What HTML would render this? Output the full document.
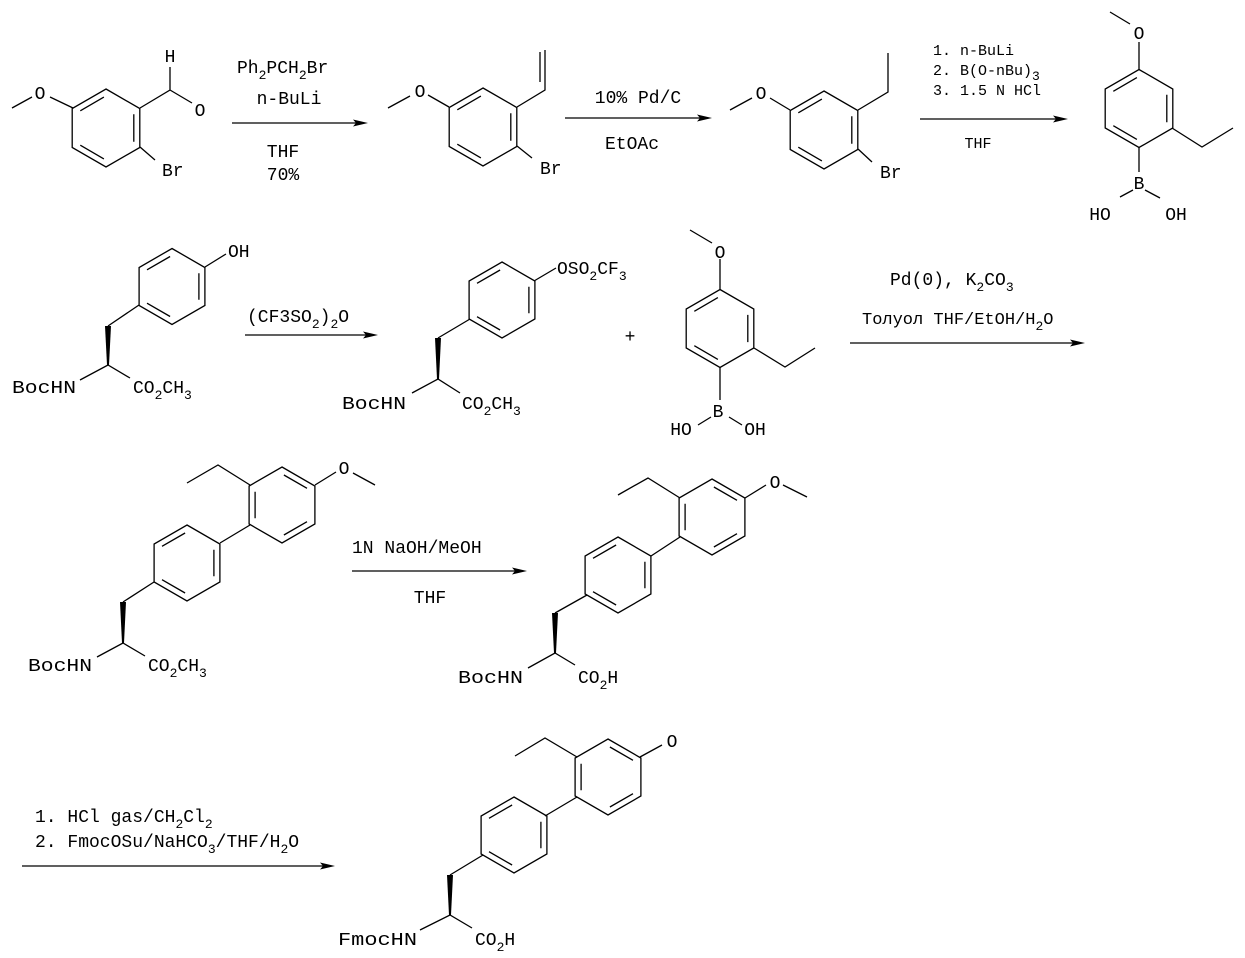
<!DOCTYPE html>
<html><head><meta charset="utf-8"><style>
html,body{margin:0;padding:0;background:#fff;}
svg{display:block;}
text{font-family:"Liberation Mono","DejaVu Sans Mono",monospace;font-size:18px;fill:#000;}
.s{font-size:13px;}
.sm text{font-size:15px;}
</style></head><body>
<svg id="g" width="1245" height="958" viewBox="0 0 1245 958" xmlns="http://www.w3.org/2000/svg">
<g stroke="#000" stroke-width="1.3" fill="none" id="L">
<!-- mol 1 -->
<path d="M12 108L32 97M50 97L73 108M140 108L170 90L170 67M170 90L192 103M140 147L155 160"/>
<!-- styrene -->
<path d="M388 108L410 96M428 95L449 107M517 107L545 90L545 50M540 82L540 52M517 146L532 158"/>
<!-- bromide -->
<path d="M730 110L752 98M770 98L790 110M858 110L888 92L888 53M858 149L872 162"/>
<!-- boronic -->
<path d="M1110 12L1130 24M1139 42L1139 70M1172 128L1202 147L1233 128M1139 147L1139 172M1120 197L1133 190M1145 190L1160 198"/>
<!-- tyrosine -->
<path d="M205 267L226 254M139 305L108 326M80 380L108 365L130 378"/>
<!-- triflate -->
<path d="M534 281L556 268M470 319L438 338M412 393L438 379L460 393"/>
<!-- boronic 2 -->
<path d="M690 230L712 243M720 259L720 290M754 348L785 367L815 348M720 367L720 400M698 425L711 417M729 417L742 425"/>
<!-- A -->
<path d="M315 485L336 472M353 473L375 485M250 485L218 465L187 483M220 543L250 525M154 582L123 602M97 657L123 643L145 656"/>
<!-- B -->
<path d="M745 498L766 485M783 485L807 497M680 498L648 478L618 495M651 556L680 537M587 595L555 613M528 668L555 653L575 665"/>
<!-- C -->
<path d="M640 757L662 745M577 757L545 738L515 756M545 816L577 797M483 855L450 875M420 930L450 915L472 928"/>
<!-- arrows -->
<path d="M232 123H356M565 118H700M920 119H1056M245 335H366M850 343H1073M352 571H515M22 866H323"/>
</g>
<g fill="#000">
<polygon points="368,123 353,119.5 356,123 353,126.5"/>
<polygon points="712,118 697,114.5 700,118 697,121.5"/>
<polygon points="1068,119 1053,115.5 1056,119 1053,122.5"/>
<polygon points="378,335 363,331.5 366,335 363,338.5"/>
<polygon points="1085,343 1070,339.5 1073,343 1070,346.5"/>
<polygon points="527,571 512,567.5 515,571 512,574.5"/>
<polygon points="335,866 320,862.5 323,866 320,869.5"/>
<!-- wedges -->
<polygon points="105,326 111,326 109,365 107,365"/>
<polygon points="435,338 441,338 439,379 437,379"/>
<polygon points="120,602 126,602 124,643 122,643"/>
<polygon points="552,613 558,613 556,653 554,653"/>
<polygon points="447,875 453,875 451,915 449,915"/>
</g>
<!-- atom labels -->
<g text-anchor="middle">
<text x="40" y="99">O</text><text x="170" y="62">H</text><text x="200" y="116">O</text>
<text x="420" y="97">O</text><text x="761" y="99">O</text>
<text x="1139" y="39">O</text><text x="1139" y="189">B</text><text x="1100" y="220">HO</text><text x="1176" y="220">OH</text>
<text x="720" y="258">O</text><text x="718" y="417">B</text><text x="681" y="435">HO</text><text x="755" y="435">OH</text>
<text x="630" y="342">+</text>
<text x="344" y="474">O</text><text x="775" y="488">O</text><text x="672" y="747">O</text>
</g>
<g>
<text x="162" y="176">Br</text><text x="540" y="174">Br</text><text x="880" y="178">Br</text>
<text x="228" y="257">OH</text>
<text x="12" y="393" textLength="64" lengthAdjust="spacingAndGlyphs">BocHN</text>
<text x="133" y="393">CO<tspan class="s" dy="6">2</tspan><tspan dy="-6">CH</tspan><tspan class="s" dy="6">3</tspan></text>
<text x="557" y="274">OSO<tspan class="s" dy="6">2</tspan><tspan dy="-6">CF</tspan><tspan class="s" dy="6">3</tspan></text>
<text x="342" y="409" textLength="64" lengthAdjust="spacingAndGlyphs">BocHN</text>
<text x="462" y="409">CO<tspan class="s" dy="6">2</tspan><tspan dy="-6">CH</tspan><tspan class="s" dy="6">3</tspan></text>
<text x="28" y="671" textLength="64" lengthAdjust="spacingAndGlyphs">BocHN</text>
<text x="148" y="671">CO<tspan class="s" dy="6">2</tspan><tspan dy="-6">CH</tspan><tspan class="s" dy="6">3</tspan></text>
<text x="458" y="683" textLength="65" lengthAdjust="spacingAndGlyphs">BocHN</text>
<text x="578" y="683">CO<tspan class="s" dy="6">2</tspan><tspan dy="-6">H</tspan></text>
<text x="338" y="945" textLength="79" lengthAdjust="spacingAndGlyphs">FmocHN</text>
<text x="475" y="945">CO<tspan class="s" dy="6">2</tspan><tspan dy="-6">H</tspan></text>
<!-- reagents -->
<text x="237" y="73">Ph<tspan class="s" dy="6">2</tspan><tspan dy="-6">PCH</tspan><tspan class="s" dy="6">2</tspan><tspan dy="-6">Br</tspan></text>
<text x="289" y="104" text-anchor="middle">n-BuLi</text>
<text x="283" y="157" text-anchor="middle">THF</text>
<text x="283" y="180" text-anchor="middle">70%</text>
<text x="638" y="103" text-anchor="middle">10% Pd/C</text>
<text x="632" y="149" text-anchor="middle">EtOAc</text>
<g class="sm"><text x="933" y="55">1. n-BuLi</text>
<text x="933" y="75">2. B(O-nBu)<tspan class="s" dy="5">3</tspan></text>
<text x="933" y="95">3. 1.5 N HCl</text>
<text x="978" y="148" text-anchor="middle">THF</text></g>
<text x="247" y="322">(CF3SO<tspan class="s" dy="6">2</tspan><tspan dy="-6">)</tspan><tspan class="s" dy="6">2</tspan><tspan dy="-6">O</tspan></text>
<text x="890" y="285">Pd(0), K<tspan class="s" dy="6">2</tspan><tspan dy="-6">CO</tspan><tspan class="s" dy="6">3</tspan></text>
<text x="862" y="324" style="font-size:17px">Толуол THF/EtOH/H<tspan class="s" dy="6">2</tspan><tspan dy="-6">O</tspan></text>
<text x="352" y="553">1N NaOH/MeOH</text>
<text x="430" y="603" text-anchor="middle">THF</text>
<text x="35" y="822">1. HCl gas/CH<tspan class="s" dy="6">2</tspan><tspan dy="-6">Cl</tspan><tspan class="s" dy="6">2</tspan></text>
<text x="35" y="847">2. FmocOSu/NaHCO<tspan class="s" dy="6">3</tspan><tspan dy="-6">/THF/H</tspan><tspan class="s" dy="6">2</tspan><tspan dy="-6">O</tspan></text>
</g>
</svg>
<script>
(function(){
var L=document.getElementById('L');
function hex(cx,cy,r,pat){
  var v=[];for(var i=0;i<6;i++){var a=(-90+60*i)*Math.PI/180;v.push([cx+r*Math.cos(a),cy+r*Math.sin(a)]);}
  var d='M'+v.map(function(p){return p[0].toFixed(1)+' '+p[1].toFixed(1);}).join('L')+'Z';
  var E=pat?[[0,1],[2,3],[4,5]]:[[5,0],[1,2],[3,4]];
  E.forEach(function(e){
    var a=v[e[0]],b=v[e[1]];
    var mx=(a[0]+b[0])/2,my=(a[1]+b[1])/2;
    var dx=cx-mx,dy=cy-my,l=Math.hypot(dx,dy);var o=6;
    var ox=dx/l*o,oy=dy/l*o;
    var t=0.15;
    var x1=a[0]+(b[0]-a[0])*t+ox,y1=a[1]+(b[1]-a[1])*t+oy;
    var x2=a[0]+(b[0]-a[0])*(1-t)+ox,y2=a[1]+(b[1]-a[1])*(1-t)+oy;
    d+='M'+x1.toFixed(1)+' '+y1.toFixed(1)+'L'+x2.toFixed(1)+' '+y2.toFixed(1);
  });
  var p=document.createElementNS('http://www.w3.org/2000/svg','path');p.setAttribute('d',d);L.appendChild(p);
}
hex(106,128,39,0);hex(483,127,39,0);hex(824,130,39,0);hex(1139,108.5,39,0);
hex(172,286.5,38,0);hex(502,300,38,0);hex(720,328.5,39,0);
hex(187,563,38,0);hex(282,505,38,1);
hex(618,575,38,0);hex(712,517,38,1);
hex(514,835,38,0);hex(608,777,38,1);
})();
</script>
</body></html>
